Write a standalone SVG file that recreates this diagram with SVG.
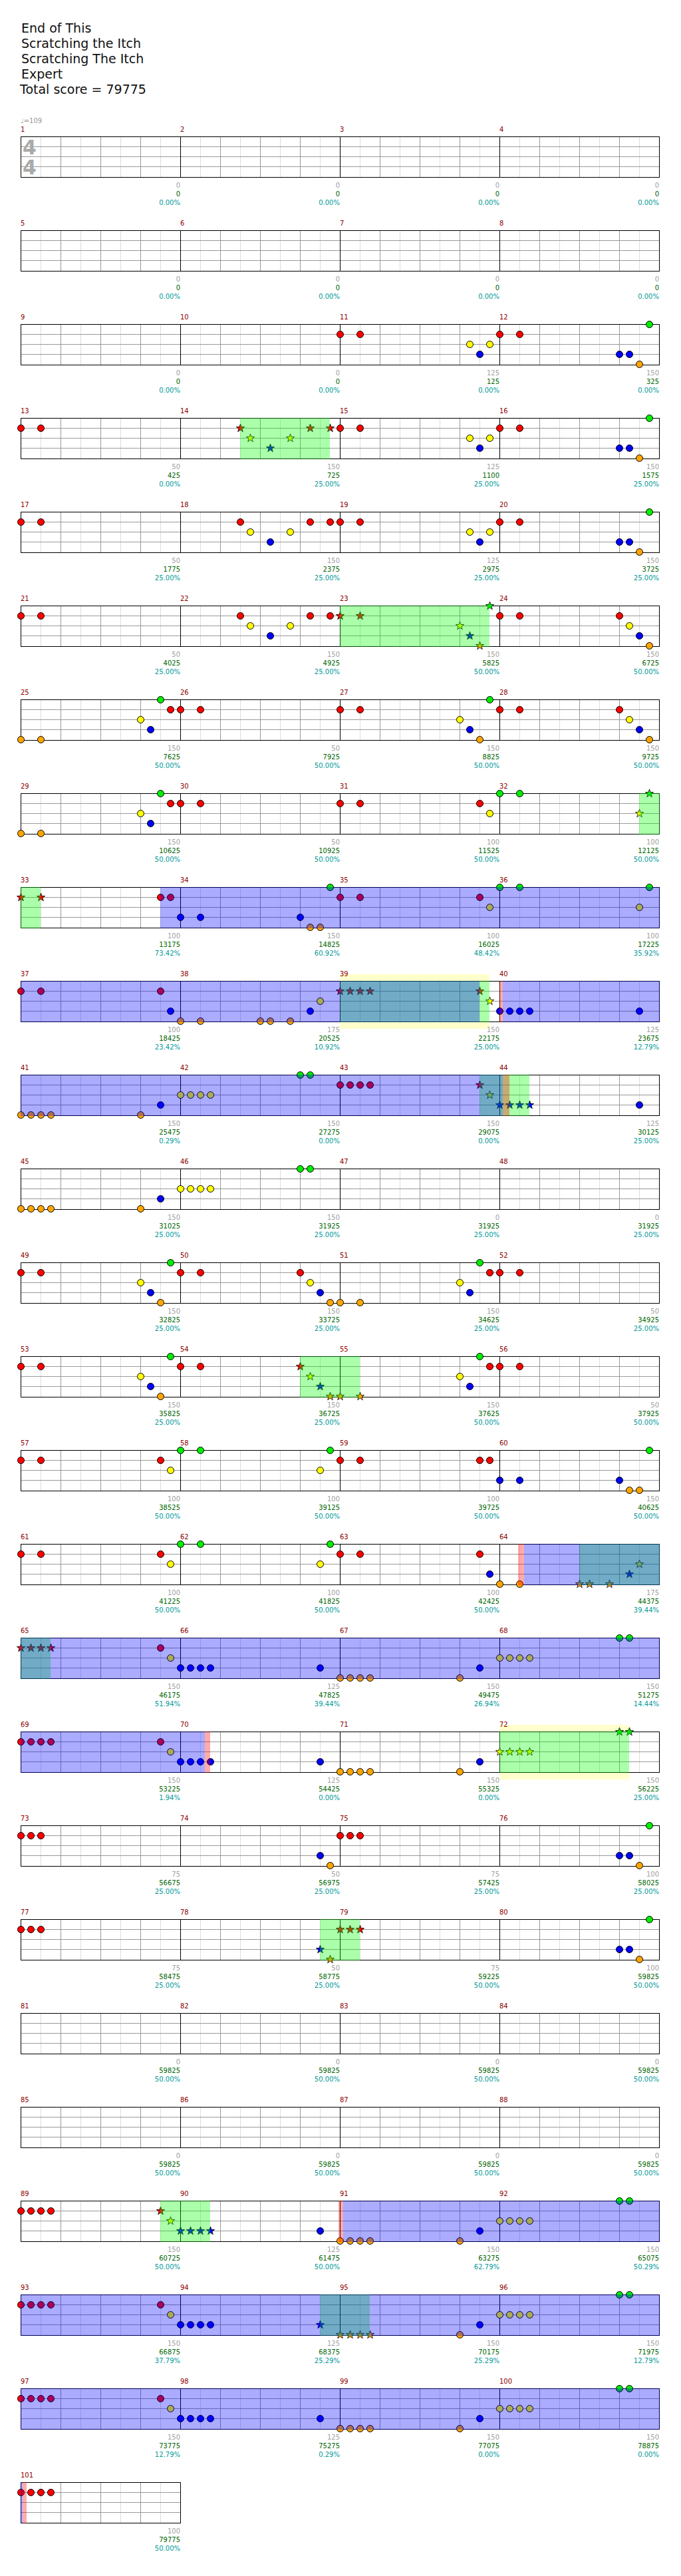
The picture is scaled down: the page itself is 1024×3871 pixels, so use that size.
<svg xmlns="http://www.w3.org/2000/svg" width="1024" height="3871" viewBox="0 0 1024 3871">
<style>
text{font-family:"DejaVu Sans","Liberation Sans",sans-serif;font-size:10px}
.h{font-size:19px;fill:#111}
.mn{fill:#8b0000}
.g,.s,.p{text-anchor:end}
.g{fill:#a0a0a0}.s{fill:#006400}.p{fill:#009999}
.gr{fill:#0f0;opacity:.33}.bl{fill:#00f;opacity:.33}.rd{fill:#f00;opacity:.33}.yl{fill:#ffc}
.ts{font-size:30px;font-weight:bold;fill:#aaa}
</style>
<defs>
<g id="staff">
<rect x="31.5" y="0.5" width="960" height="61" fill="#fff"/>
<path d="M61.5 1V61M121.5 1V61M181.5 1V61M241.5 1V61M301.5 1V61M361.5 1V61M421.5 1V61M481.5 1V61M541.5 1V61M601.5 1V61M661.5 1V61M721.5 1V61M781.5 1V61M841.5 1V61M901.5 1V61M961.5 1V61" stroke="#ddd"/>
<path d="M31.5 15.5H991.5M31.5 30.5H991.5M31.5 45.5H991.5M91.5 1V61M151.5 1V61M211.5 1V61M331.5 1V61M391.5 1V61M451.5 1V61M571.5 1V61M631.5 1V61M691.5 1V61M811.5 1V61M871.5 1V61M931.5 1V61" stroke="#999"/>
<path d="M271.5 1V61M511.5 1V61M751.5 1V61" stroke="#000"/>
<rect x="31.5" y="0.5" width="960" height="61" fill="none" stroke="#000"/>
</g>
<g id="staff1">
<rect x="31.5" y="0.5" width="240" height="61" fill="#fff"/>
<path d="M61.5 1V61M121.5 1V61M181.5 1V61M241.5 1V61" stroke="#ddd"/>
<path d="M31.5 15.5H271.5M31.5 30.5H271.5M31.5 45.5H271.5M91.5 1V61M151.5 1V61M211.5 1V61" stroke="#999"/>
<rect x="31.5" y="0.5" width="240" height="61" fill="none" stroke="#000"/>
</g>
<circle id="c" r="5" stroke="#000"/>
<path id="st" d="M0-6.5L1.53-2.1 6.18-2.01 2.47.8 3.82 5.26 0 2.6-3.82 5.26-2.47.8-6.18-2.01-1.53-2.1Z" stroke="#000" stroke-width=".8"/>
<use id="G" href="#c" y="0.5" fill="#0e0"/>
<use id="R" href="#c" y="15.5" fill="#f00"/>
<use id="Y" href="#c" y="30.5" fill="#ff0"/>
<use id="B" href="#c" y="45.5" fill="#00f"/>
<use id="O" href="#c" y="60.5" fill="#ffa500"/>
<use id="sG" href="#st" y="0.5" fill="#0e0"/>
<use id="sR" href="#st" y="15.5" fill="#f00"/>
<use id="sY" href="#st" y="30.5" fill="#ff0"/>
<use id="sB" href="#st" y="45.5" fill="#00f"/>
<use id="sO" href="#st" y="60.5" fill="#ffa500"/>
</defs>
<rect width="1024" height="3871" fill="#fff"/>
<g id="header">
<text class="h" x="32" y="49">End of This</text>
<text class="h" x="32" y="72">Scratching the Itch</text>
<text class="h" x="32" y="95">Scratching The Itch</text>
<text class="h" x="32" y="118">Expert</text>
<text class="h" x="30" y="141">Total score = 79775</text>
</g>

<g id="row1" transform="translate(0 205)">
<use href="#staff"/>
<text x="31" y="-20" fill="#999">♩=109</text>
<text class="ts" x="34" y="27">4</text><text class="ts" x="34" y="57">4</text>
<text class="mn" x="31" y="-7">1</text><text class="mn" x="271" y="-7">2</text><text class="mn" x="511" y="-7">3</text><text class="mn" x="751" y="-7">4</text>
<text class="g" x="271" y="77">0</text><text class="s" x="271" y="90">0</text><text class="p" x="271" y="103">0.00%</text>
<text class="g" x="511" y="77">0</text><text class="s" x="511" y="90">0</text><text class="p" x="511" y="103">0.00%</text>
<text class="g" x="751" y="77">0</text><text class="s" x="751" y="90">0</text><text class="p" x="751" y="103">0.00%</text>
<text class="g" x="991" y="77">0</text><text class="s" x="991" y="90">0</text><text class="p" x="991" y="103">0.00%</text>
</g>

<g id="row2" transform="translate(0 346)">
<use href="#staff"/>
<text class="mn" x="31" y="-7">5</text><text class="mn" x="271" y="-7">6</text><text class="mn" x="511" y="-7">7</text><text class="mn" x="751" y="-7">8</text>
<text class="g" x="271" y="77">0</text><text class="s" x="271" y="90">0</text><text class="p" x="271" y="103">0.00%</text>
<text class="g" x="511" y="77">0</text><text class="s" x="511" y="90">0</text><text class="p" x="511" y="103">0.00%</text>
<text class="g" x="751" y="77">0</text><text class="s" x="751" y="90">0</text><text class="p" x="751" y="103">0.00%</text>
<text class="g" x="991" y="77">0</text><text class="s" x="991" y="90">0</text><text class="p" x="991" y="103">0.00%</text>
</g>

<g id="row3" transform="translate(0 487)">
<use href="#staff"/>
<use href="#R" x="511.5"/><use href="#R" x="541.5"/><use href="#Y" x="706.5"/><use href="#B" x="721.5"/><use href="#Y" x="736.5"/><use href="#R" x="751.5"/><use href="#R" x="781.5"/><use href="#B" x="931.5"/><use href="#B" x="946.5"/><use href="#O" x="961.5"/><use href="#G" x="976.5"/>
<text class="mn" x="31" y="-7">9</text><text class="mn" x="271" y="-7">10</text><text class="mn" x="511" y="-7">11</text><text class="mn" x="751" y="-7">12</text>
<text class="g" x="271" y="77">0</text><text class="s" x="271" y="90">0</text><text class="p" x="271" y="103">0.00%</text>
<text class="g" x="511" y="77">0</text><text class="s" x="511" y="90">0</text><text class="p" x="511" y="103">0.00%</text>
<text class="g" x="751" y="77">125</text><text class="s" x="751" y="90">125</text><text class="p" x="751" y="103">0.00%</text>
<text class="g" x="991" y="77">150</text><text class="s" x="991" y="90">325</text><text class="p" x="991" y="103">0.00%</text>
</g>

<g id="row4" transform="translate(0 628)">
<use href="#staff"/>
<use href="#R" x="31.5"/><use href="#R" x="61.5"/><use href="#sR" x="361.5"/><use href="#sY" x="376.5"/><use href="#sB" x="406.5"/><use href="#sY" x="436.5"/><use href="#sR" x="466.5"/><use href="#sR" x="496.5"/><use href="#R" x="511.5"/><use href="#R" x="541.5"/><use href="#Y" x="706.5"/><use href="#B" x="721.5"/><use href="#Y" x="736.5"/><use href="#R" x="751.5"/><use href="#R" x="781.5"/><use href="#B" x="931.5"/><use href="#B" x="946.5"/><use href="#O" x="961.5"/><use href="#G" x="976.5"/>
<rect class="gr" x="361" y="0" width="135" height="62"/>
<text class="mn" x="31" y="-7">13</text><text class="mn" x="271" y="-7">14</text><text class="mn" x="511" y="-7">15</text><text class="mn" x="751" y="-7">16</text>
<text class="g" x="271" y="77">50</text><text class="s" x="271" y="90">425</text><text class="p" x="271" y="103">0.00%</text>
<text class="g" x="511" y="77">150</text><text class="s" x="511" y="90">725</text><text class="p" x="511" y="103">25.00%</text>
<text class="g" x="751" y="77">125</text><text class="s" x="751" y="90">1100</text><text class="p" x="751" y="103">25.00%</text>
<text class="g" x="991" y="77">150</text><text class="s" x="991" y="90">1575</text><text class="p" x="991" y="103">25.00%</text>
</g>

<g id="row5" transform="translate(0 769)">
<use href="#staff"/>
<use href="#R" x="31.5"/><use href="#R" x="61.5"/><use href="#R" x="361.5"/><use href="#Y" x="376.5"/><use href="#B" x="406.5"/><use href="#Y" x="436.5"/><use href="#R" x="466.5"/><use href="#R" x="496.5"/><use href="#R" x="511.5"/><use href="#R" x="541.5"/><use href="#Y" x="706.5"/><use href="#B" x="721.5"/><use href="#Y" x="736.5"/><use href="#R" x="751.5"/><use href="#R" x="781.5"/><use href="#B" x="931.5"/><use href="#B" x="946.5"/><use href="#O" x="961.5"/><use href="#G" x="976.5"/>
<text class="mn" x="31" y="-7">17</text><text class="mn" x="271" y="-7">18</text><text class="mn" x="511" y="-7">19</text><text class="mn" x="751" y="-7">20</text>
<text class="g" x="271" y="77">50</text><text class="s" x="271" y="90">1775</text><text class="p" x="271" y="103">25.00%</text>
<text class="g" x="511" y="77">150</text><text class="s" x="511" y="90">2375</text><text class="p" x="511" y="103">25.00%</text>
<text class="g" x="751" y="77">125</text><text class="s" x="751" y="90">2975</text><text class="p" x="751" y="103">25.00%</text>
<text class="g" x="991" y="77">150</text><text class="s" x="991" y="90">3725</text><text class="p" x="991" y="103">25.00%</text>
</g>

<g id="row6" transform="translate(0 910)">
<use href="#staff"/>
<use href="#R" x="31.5"/><use href="#R" x="61.5"/><use href="#R" x="361.5"/><use href="#Y" x="376.5"/><use href="#B" x="406.5"/><use href="#Y" x="436.5"/><use href="#R" x="466.5"/><use href="#R" x="496.5"/><use href="#sR" x="511.5"/><use href="#sR" x="541.5"/><use href="#sY" x="691.5"/><use href="#sB" x="706.5"/><use href="#sO" x="721.5"/><use href="#sG" x="736.5"/><use href="#R" x="751.5"/><use href="#R" x="781.5"/><use href="#R" x="931.5"/><use href="#Y" x="946.5"/><use href="#B" x="961.5"/><use href="#O" x="976.5"/>
<rect class="gr" x="511" y="0" width="225" height="62"/>
<text class="mn" x="31" y="-7">21</text><text class="mn" x="271" y="-7">22</text><text class="mn" x="511" y="-7">23</text><text class="mn" x="751" y="-7">24</text>
<text class="g" x="271" y="77">50</text><text class="s" x="271" y="90">4025</text><text class="p" x="271" y="103">25.00%</text>
<text class="g" x="511" y="77">150</text><text class="s" x="511" y="90">4925</text><text class="p" x="511" y="103">25.00%</text>
<text class="g" x="751" y="77">150</text><text class="s" x="751" y="90">5825</text><text class="p" x="751" y="103">50.00%</text>
<text class="g" x="991" y="77">150</text><text class="s" x="991" y="90">6725</text><text class="p" x="991" y="103">50.00%</text>
</g>

<g id="row7" transform="translate(0 1051)">
<use href="#staff"/>
<use href="#O" x="31.5"/><use href="#O" x="61.5"/><use href="#Y" x="211.5"/><use href="#B" x="226.5"/><use href="#G" x="241.5"/><use href="#R" x="256.5"/><use href="#R" x="271.5"/><use href="#R" x="301.5"/><use href="#R" x="511.5"/><use href="#R" x="541.5"/><use href="#Y" x="691.5"/><use href="#B" x="706.5"/><use href="#O" x="721.5"/><use href="#G" x="736.5"/><use href="#R" x="751.5"/><use href="#R" x="781.5"/><use href="#R" x="931.5"/><use href="#Y" x="946.5"/><use href="#B" x="961.5"/><use href="#O" x="976.5"/>
<text class="mn" x="31" y="-7">25</text><text class="mn" x="271" y="-7">26</text><text class="mn" x="511" y="-7">27</text><text class="mn" x="751" y="-7">28</text>
<text class="g" x="271" y="77">150</text><text class="s" x="271" y="90">7625</text><text class="p" x="271" y="103">50.00%</text>
<text class="g" x="511" y="77">50</text><text class="s" x="511" y="90">7925</text><text class="p" x="511" y="103">50.00%</text>
<text class="g" x="751" y="77">150</text><text class="s" x="751" y="90">8825</text><text class="p" x="751" y="103">50.00%</text>
<text class="g" x="991" y="77">150</text><text class="s" x="991" y="90">9725</text><text class="p" x="991" y="103">50.00%</text>
</g>

<g id="row8" transform="translate(0 1192)">
<use href="#staff"/>
<use href="#O" x="31.5"/><use href="#O" x="61.5"/><use href="#Y" x="211.5"/><use href="#B" x="226.5"/><use href="#G" x="241.5"/><use href="#R" x="256.5"/><use href="#R" x="271.5"/><use href="#R" x="301.5"/><use href="#R" x="511.5"/><use href="#R" x="541.5"/><use href="#R" x="721.5"/><use href="#Y" x="736.5"/><use href="#G" x="751.5"/><use href="#G" x="781.5"/><use href="#sY" x="961.5"/><use href="#sG" x="976.5"/>
<rect class="gr" x="961" y="0" width="31" height="62"/>
<text class="mn" x="31" y="-7">29</text><text class="mn" x="271" y="-7">30</text><text class="mn" x="511" y="-7">31</text><text class="mn" x="751" y="-7">32</text>
<text class="g" x="271" y="77">150</text><text class="s" x="271" y="90">10625</text><text class="p" x="271" y="103">50.00%</text>
<text class="g" x="511" y="77">50</text><text class="s" x="511" y="90">10925</text><text class="p" x="511" y="103">50.00%</text>
<text class="g" x="751" y="77">100</text><text class="s" x="751" y="90">11525</text><text class="p" x="751" y="103">50.00%</text>
<text class="g" x="991" y="77">100</text><text class="s" x="991" y="90">12125</text><text class="p" x="991" y="103">50.00%</text>
</g>

<g id="row9" transform="translate(0 1333)">
<use href="#staff"/>
<use href="#sR" x="31.5"/><use href="#sR" x="61.5"/><use href="#R" x="241.5"/><use href="#R" x="256.5"/><use href="#B" x="271.5"/><use href="#B" x="301.5"/><use href="#B" x="451.5"/><use href="#O" x="466.5"/><use href="#O" x="481.5"/><use href="#G" x="496.5"/><use href="#R" x="511.5"/><use href="#R" x="541.5"/><use href="#R" x="721.5"/><use href="#Y" x="736.5"/><use href="#G" x="751.5"/><use href="#G" x="781.5"/><use href="#Y" x="961.5"/><use href="#G" x="976.5"/>
<rect class="gr" x="31" y="0" width="30" height="62"/>
<rect class="bl" x="241" y="0" width="751" height="62"/>
<text class="mn" x="31" y="-7">33</text><text class="mn" x="271" y="-7">34</text><text class="mn" x="511" y="-7">35</text><text class="mn" x="751" y="-7">36</text>
<text class="g" x="271" y="77">100</text><text class="s" x="271" y="90">13175</text><text class="p" x="271" y="103">73.42%</text>
<text class="g" x="511" y="77">150</text><text class="s" x="511" y="90">14825</text><text class="p" x="511" y="103">60.92%</text>
<text class="g" x="751" y="77">100</text><text class="s" x="751" y="90">16025</text><text class="p" x="751" y="103">48.42%</text>
<text class="g" x="991" y="77">100</text><text class="s" x="991" y="90">17225</text><text class="p" x="991" y="103">35.92%</text>
</g>

<g id="row10" transform="translate(0 1474)">
<rect class="yl" x="511" y="-10" width="225" height="82"/>
<use href="#staff"/>
<use href="#R" x="31.5"/><use href="#R" x="61.5"/><use href="#R" x="241.5"/><use href="#B" x="256.5"/><use href="#O" x="271.5"/><use href="#O" x="301.5"/><use href="#O" x="391.5"/><use href="#O" x="406.5"/><use href="#O" x="436.5"/><use href="#B" x="466.5"/><use href="#Y" x="481.5"/><use href="#sR" x="511.5"/><use href="#sR" x="526.5"/><use href="#sR" x="541.5"/><use href="#sR" x="556.5"/><use href="#sR" x="721.5"/><use href="#sY" x="736.5"/><use href="#B" x="751.5"/><use href="#B" x="766.5"/><use href="#B" x="781.5"/><use href="#B" x="796.5"/><use href="#B" x="961.5"/>
<rect class="gr" x="511" y="0" width="225" height="62"/>
<rect class="bl" x="31" y="0" width="690" height="62"/>
<rect class="bl" x="756" y="0" width="236" height="62"/>
<rect class="rd" x="751" y="0" width="5" height="62"/>
<text class="mn" x="31" y="-7">37</text><text class="mn" x="271" y="-7">38</text><text class="mn" x="511" y="-7">39</text><text class="mn" x="751" y="-7">40</text>
<text class="g" x="271" y="77">100</text><text class="s" x="271" y="90">18425</text><text class="p" x="271" y="103">23.42%</text>
<text class="g" x="511" y="77">175</text><text class="s" x="511" y="90">20525</text><text class="p" x="511" y="103">10.92%</text>
<text class="g" x="751" y="77">150</text><text class="s" x="751" y="90">22175</text><text class="p" x="751" y="103">25.00%</text>
<text class="g" x="991" y="77">125</text><text class="s" x="991" y="90">23675</text><text class="p" x="991" y="103">12.79%</text>
</g>

<g id="row11" transform="translate(0 1615)">
<use href="#staff"/>
<use href="#O" x="31.5"/><use href="#O" x="46.5"/><use href="#O" x="61.5"/><use href="#O" x="76.5"/><use href="#O" x="211.5"/><use href="#B" x="241.5"/><use href="#Y" x="271.5"/><use href="#Y" x="286.5"/><use href="#Y" x="301.5"/><use href="#Y" x="316.5"/><use href="#G" x="451.5"/><use href="#G" x="466.5"/><use href="#R" x="511.5"/><use href="#R" x="526.5"/><use href="#R" x="541.5"/><use href="#R" x="556.5"/><use href="#sR" x="721.5"/><use href="#sY" x="736.5"/><use href="#sB" x="751.5"/><use href="#sB" x="766.5"/><use href="#sB" x="781.5"/><use href="#sB" x="796.5"/><use href="#B" x="961.5"/>
<rect class="gr" x="721" y="0" width="75" height="62"/>
<rect class="bl" x="31" y="0" width="725" height="62"/>
<rect class="rd" x="756" y="0" width="10" height="62"/>
<text class="mn" x="31" y="-7">41</text><text class="mn" x="271" y="-7">42</text><text class="mn" x="511" y="-7">43</text><text class="mn" x="751" y="-7">44</text>
<text class="g" x="271" y="77">150</text><text class="s" x="271" y="90">25475</text><text class="p" x="271" y="103">0.29%</text>
<text class="g" x="511" y="77">150</text><text class="s" x="511" y="90">27275</text><text class="p" x="511" y="103">0.00%</text>
<text class="g" x="751" y="77">150</text><text class="s" x="751" y="90">29075</text><text class="p" x="751" y="103">0.00%</text>
<text class="g" x="991" y="77">125</text><text class="s" x="991" y="90">30125</text><text class="p" x="991" y="103">25.00%</text>
</g>

<g id="row12" transform="translate(0 1756)">
<use href="#staff"/>
<use href="#O" x="31.5"/><use href="#O" x="46.5"/><use href="#O" x="61.5"/><use href="#O" x="76.5"/><use href="#O" x="211.5"/><use href="#B" x="241.5"/><use href="#Y" x="271.5"/><use href="#Y" x="286.5"/><use href="#Y" x="301.5"/><use href="#Y" x="316.5"/><use href="#G" x="451.5"/><use href="#G" x="466.5"/>
<text class="mn" x="31" y="-7">45</text><text class="mn" x="271" y="-7">46</text><text class="mn" x="511" y="-7">47</text><text class="mn" x="751" y="-7">48</text>
<text class="g" x="271" y="77">150</text><text class="s" x="271" y="90">31025</text><text class="p" x="271" y="103">25.00%</text>
<text class="g" x="511" y="77">150</text><text class="s" x="511" y="90">31925</text><text class="p" x="511" y="103">25.00%</text>
<text class="g" x="751" y="77">0</text><text class="s" x="751" y="90">31925</text><text class="p" x="751" y="103">25.00%</text>
<text class="g" x="991" y="77">0</text><text class="s" x="991" y="90">31925</text><text class="p" x="991" y="103">25.00%</text>
</g>

<g id="row13" transform="translate(0 1897)">
<use href="#staff"/>
<use href="#R" x="31.5"/><use href="#R" x="61.5"/><use href="#Y" x="211.5"/><use href="#B" x="226.5"/><use href="#O" x="241.5"/><use href="#G" x="256.5"/><use href="#R" x="271.5"/><use href="#R" x="301.5"/><use href="#R" x="451.5"/><use href="#Y" x="466.5"/><use href="#B" x="481.5"/><use href="#O" x="496.5"/><use href="#O" x="511.5"/><use href="#O" x="541.5"/><use href="#Y" x="691.5"/><use href="#B" x="706.5"/><use href="#G" x="721.5"/><use href="#R" x="736.5"/><use href="#R" x="751.5"/><use href="#R" x="781.5"/>
<text class="mn" x="31" y="-7">49</text><text class="mn" x="271" y="-7">50</text><text class="mn" x="511" y="-7">51</text><text class="mn" x="751" y="-7">52</text>
<text class="g" x="271" y="77">150</text><text class="s" x="271" y="90">32825</text><text class="p" x="271" y="103">25.00%</text>
<text class="g" x="511" y="77">150</text><text class="s" x="511" y="90">33725</text><text class="p" x="511" y="103">25.00%</text>
<text class="g" x="751" y="77">150</text><text class="s" x="751" y="90">34625</text><text class="p" x="751" y="103">25.00%</text>
<text class="g" x="991" y="77">50</text><text class="s" x="991" y="90">34925</text><text class="p" x="991" y="103">25.00%</text>
</g>

<g id="row14" transform="translate(0 2038)">
<use href="#staff"/>
<use href="#R" x="31.5"/><use href="#R" x="61.5"/><use href="#Y" x="211.5"/><use href="#B" x="226.5"/><use href="#O" x="241.5"/><use href="#G" x="256.5"/><use href="#R" x="271.5"/><use href="#R" x="301.5"/><use href="#sR" x="451.5"/><use href="#sY" x="466.5"/><use href="#sB" x="481.5"/><use href="#sO" x="496.5"/><use href="#sO" x="511.5"/><use href="#sO" x="541.5"/><use href="#Y" x="691.5"/><use href="#B" x="706.5"/><use href="#G" x="721.5"/><use href="#R" x="736.5"/><use href="#R" x="751.5"/><use href="#R" x="781.5"/>
<rect class="gr" x="451" y="0" width="90" height="62"/>
<text class="mn" x="31" y="-7">53</text><text class="mn" x="271" y="-7">54</text><text class="mn" x="511" y="-7">55</text><text class="mn" x="751" y="-7">56</text>
<text class="g" x="271" y="77">150</text><text class="s" x="271" y="90">35825</text><text class="p" x="271" y="103">25.00%</text>
<text class="g" x="511" y="77">150</text><text class="s" x="511" y="90">36725</text><text class="p" x="511" y="103">25.00%</text>
<text class="g" x="751" y="77">150</text><text class="s" x="751" y="90">37625</text><text class="p" x="751" y="103">50.00%</text>
<text class="g" x="991" y="77">50</text><text class="s" x="991" y="90">37925</text><text class="p" x="991" y="103">50.00%</text>
</g>

<g id="row15" transform="translate(0 2179)">
<use href="#staff"/>
<use href="#R" x="31.5"/><use href="#R" x="61.5"/><use href="#R" x="241.5"/><use href="#Y" x="256.5"/><use href="#G" x="271.5"/><use href="#G" x="301.5"/><use href="#Y" x="481.5"/><use href="#G" x="496.5"/><use href="#R" x="511.5"/><use href="#R" x="541.5"/><use href="#R" x="721.5"/><use href="#R" x="736.5"/><use href="#B" x="751.5"/><use href="#B" x="781.5"/><use href="#B" x="931.5"/><use href="#O" x="946.5"/><use href="#O" x="961.5"/><use href="#G" x="976.5"/>
<text class="mn" x="31" y="-7">57</text><text class="mn" x="271" y="-7">58</text><text class="mn" x="511" y="-7">59</text><text class="mn" x="751" y="-7">60</text>
<text class="g" x="271" y="77">100</text><text class="s" x="271" y="90">38525</text><text class="p" x="271" y="103">50.00%</text>
<text class="g" x="511" y="77">100</text><text class="s" x="511" y="90">39125</text><text class="p" x="511" y="103">50.00%</text>
<text class="g" x="751" y="77">100</text><text class="s" x="751" y="90">39725</text><text class="p" x="751" y="103">50.00%</text>
<text class="g" x="991" y="77">150</text><text class="s" x="991" y="90">40625</text><text class="p" x="991" y="103">50.00%</text>
</g>

<g id="row16" transform="translate(0 2320)">
<use href="#staff"/>
<use href="#R" x="31.5"/><use href="#R" x="61.5"/><use href="#R" x="241.5"/><use href="#Y" x="256.5"/><use href="#G" x="271.5"/><use href="#G" x="301.5"/><use href="#Y" x="481.5"/><use href="#G" x="496.5"/><use href="#R" x="511.5"/><use href="#R" x="541.5"/><use href="#R" x="721.5"/><use href="#B" x="736.5"/><use href="#O" x="751.5"/><use href="#O" x="781.5"/><use href="#sO" x="871.5"/><use href="#sO" x="886.5"/><use href="#sO" x="916.5"/><use href="#sB" x="946.5"/><use href="#sY" x="961.5"/>
<rect class="gr" x="871" y="0" width="121" height="62"/>
<rect class="bl" x="788" y="0" width="204" height="62"/>
<rect class="rd" x="779" y="0" width="9" height="62"/>
<text class="mn" x="31" y="-7">61</text><text class="mn" x="271" y="-7">62</text><text class="mn" x="511" y="-7">63</text><text class="mn" x="751" y="-7">64</text>
<text class="g" x="271" y="77">100</text><text class="s" x="271" y="90">41225</text><text class="p" x="271" y="103">50.00%</text>
<text class="g" x="511" y="77">100</text><text class="s" x="511" y="90">41825</text><text class="p" x="511" y="103">50.00%</text>
<text class="g" x="751" y="77">100</text><text class="s" x="751" y="90">42425</text><text class="p" x="751" y="103">50.00%</text>
<text class="g" x="991" y="77">175</text><text class="s" x="991" y="90">44375</text><text class="p" x="991" y="103">39.44%</text>
</g>

<g id="row17" transform="translate(0 2461)">
<use href="#staff"/>
<use href="#sR" x="31.5"/><use href="#sR" x="46.5"/><use href="#sR" x="61.5"/><use href="#sR" x="76.5"/><use href="#R" x="241.5"/><use href="#Y" x="256.5"/><use href="#B" x="271.5"/><use href="#B" x="286.5"/><use href="#B" x="301.5"/><use href="#B" x="316.5"/><use href="#B" x="481.5"/><use href="#O" x="511.5"/><use href="#O" x="526.5"/><use href="#O" x="541.5"/><use href="#O" x="556.5"/><use href="#O" x="691.5"/><use href="#B" x="721.5"/><use href="#Y" x="751.5"/><use href="#Y" x="766.5"/><use href="#Y" x="781.5"/><use href="#Y" x="796.5"/><use href="#G" x="931.5"/><use href="#G" x="946.5"/>
<rect class="gr" x="31" y="0" width="45" height="62"/>
<rect class="bl" x="31" y="0" width="961" height="62"/>
<text class="mn" x="31" y="-7">65</text><text class="mn" x="271" y="-7">66</text><text class="mn" x="511" y="-7">67</text><text class="mn" x="751" y="-7">68</text>
<text class="g" x="271" y="77">150</text><text class="s" x="271" y="90">46175</text><text class="p" x="271" y="103">51.94%</text>
<text class="g" x="511" y="77">125</text><text class="s" x="511" y="90">47825</text><text class="p" x="511" y="103">39.44%</text>
<text class="g" x="751" y="77">150</text><text class="s" x="751" y="90">49475</text><text class="p" x="751" y="103">26.94%</text>
<text class="g" x="991" y="77">150</text><text class="s" x="991" y="90">51275</text><text class="p" x="991" y="103">14.44%</text>
</g>

<g id="row18" transform="translate(0 2602)">
<rect class="yl" x="751" y="-10" width="195" height="82"/>
<use href="#staff"/>
<use href="#R" x="31.5"/><use href="#R" x="46.5"/><use href="#R" x="61.5"/><use href="#R" x="76.5"/><use href="#R" x="241.5"/><use href="#Y" x="256.5"/><use href="#B" x="271.5"/><use href="#B" x="286.5"/><use href="#B" x="301.5"/><use href="#B" x="316.5"/><use href="#B" x="481.5"/><use href="#O" x="511.5"/><use href="#O" x="526.5"/><use href="#O" x="541.5"/><use href="#O" x="556.5"/><use href="#O" x="691.5"/><use href="#B" x="721.5"/><use href="#sY" x="751.5"/><use href="#sY" x="766.5"/><use href="#sY" x="781.5"/><use href="#sY" x="796.5"/><use href="#sG" x="931.5"/><use href="#sG" x="946.5"/>
<rect class="gr" x="751" y="0" width="195" height="62"/>
<rect class="bl" x="31" y="0" width="277" height="62"/>
<rect class="rd" x="308" y="0" width="8" height="62"/>
<text class="mn" x="31" y="-7">69</text><text class="mn" x="271" y="-7">70</text><text class="mn" x="511" y="-7">71</text><text class="mn" x="751" y="-7">72</text>
<text class="g" x="271" y="77">150</text><text class="s" x="271" y="90">53225</text><text class="p" x="271" y="103">1.94%</text>
<text class="g" x="511" y="77">125</text><text class="s" x="511" y="90">54425</text><text class="p" x="511" y="103">0.00%</text>
<text class="g" x="751" y="77">150</text><text class="s" x="751" y="90">55325</text><text class="p" x="751" y="103">0.00%</text>
<text class="g" x="991" y="77">150</text><text class="s" x="991" y="90">56225</text><text class="p" x="991" y="103">25.00%</text>
</g>

<g id="row19" transform="translate(0 2743)">
<use href="#staff"/>
<use href="#R" x="31.5"/><use href="#R" x="46.5"/><use href="#R" x="61.5"/><use href="#B" x="481.5"/><use href="#O" x="496.5"/><use href="#R" x="511.5"/><use href="#R" x="526.5"/><use href="#R" x="541.5"/><use href="#B" x="931.5"/><use href="#B" x="946.5"/><use href="#O" x="961.5"/><use href="#G" x="976.5"/>
<text class="mn" x="31" y="-7">73</text><text class="mn" x="271" y="-7">74</text><text class="mn" x="511" y="-7">75</text><text class="mn" x="751" y="-7">76</text>
<text class="g" x="271" y="77">75</text><text class="s" x="271" y="90">56675</text><text class="p" x="271" y="103">25.00%</text>
<text class="g" x="511" y="77">50</text><text class="s" x="511" y="90">56975</text><text class="p" x="511" y="103">25.00%</text>
<text class="g" x="751" y="77">75</text><text class="s" x="751" y="90">57425</text><text class="p" x="751" y="103">25.00%</text>
<text class="g" x="991" y="77">100</text><text class="s" x="991" y="90">58025</text><text class="p" x="991" y="103">25.00%</text>
</g>

<g id="row20" transform="translate(0 2884)">
<use href="#staff"/>
<use href="#R" x="31.5"/><use href="#R" x="46.5"/><use href="#R" x="61.5"/><use href="#sB" x="481.5"/><use href="#sO" x="496.5"/><use href="#sR" x="511.5"/><use href="#sR" x="526.5"/><use href="#sR" x="541.5"/><use href="#B" x="931.5"/><use href="#B" x="946.5"/><use href="#O" x="961.5"/><use href="#G" x="976.5"/>
<rect class="gr" x="481" y="0" width="60" height="62"/>
<text class="mn" x="31" y="-7">77</text><text class="mn" x="271" y="-7">78</text><text class="mn" x="511" y="-7">79</text><text class="mn" x="751" y="-7">80</text>
<text class="g" x="271" y="77">75</text><text class="s" x="271" y="90">58475</text><text class="p" x="271" y="103">25.00%</text>
<text class="g" x="511" y="77">50</text><text class="s" x="511" y="90">58775</text><text class="p" x="511" y="103">25.00%</text>
<text class="g" x="751" y="77">75</text><text class="s" x="751" y="90">59225</text><text class="p" x="751" y="103">50.00%</text>
<text class="g" x="991" y="77">100</text><text class="s" x="991" y="90">59825</text><text class="p" x="991" y="103">50.00%</text>
</g>

<g id="row21" transform="translate(0 3025)">
<use href="#staff"/>
<text class="mn" x="31" y="-7">81</text><text class="mn" x="271" y="-7">82</text><text class="mn" x="511" y="-7">83</text><text class="mn" x="751" y="-7">84</text>
<text class="g" x="271" y="77">0</text><text class="s" x="271" y="90">59825</text><text class="p" x="271" y="103">50.00%</text>
<text class="g" x="511" y="77">0</text><text class="s" x="511" y="90">59825</text><text class="p" x="511" y="103">50.00%</text>
<text class="g" x="751" y="77">0</text><text class="s" x="751" y="90">59825</text><text class="p" x="751" y="103">50.00%</text>
<text class="g" x="991" y="77">0</text><text class="s" x="991" y="90">59825</text><text class="p" x="991" y="103">50.00%</text>
</g>

<g id="row22" transform="translate(0 3166)">
<use href="#staff"/>
<text class="mn" x="31" y="-7">85</text><text class="mn" x="271" y="-7">86</text><text class="mn" x="511" y="-7">87</text><text class="mn" x="751" y="-7">88</text>
<text class="g" x="271" y="77">0</text><text class="s" x="271" y="90">59825</text><text class="p" x="271" y="103">50.00%</text>
<text class="g" x="511" y="77">0</text><text class="s" x="511" y="90">59825</text><text class="p" x="511" y="103">50.00%</text>
<text class="g" x="751" y="77">0</text><text class="s" x="751" y="90">59825</text><text class="p" x="751" y="103">50.00%</text>
<text class="g" x="991" y="77">0</text><text class="s" x="991" y="90">59825</text><text class="p" x="991" y="103">50.00%</text>
</g>

<g id="row23" transform="translate(0 3307)">
<use href="#staff"/>
<use href="#R" x="31.5"/><use href="#R" x="46.5"/><use href="#R" x="61.5"/><use href="#R" x="76.5"/><use href="#sR" x="241.5"/><use href="#sY" x="256.5"/><use href="#sB" x="271.5"/><use href="#sB" x="286.5"/><use href="#sB" x="301.5"/><use href="#sB" x="316.5"/><use href="#B" x="481.5"/><use href="#O" x="511.5"/><use href="#O" x="526.5"/><use href="#O" x="541.5"/><use href="#O" x="556.5"/><use href="#O" x="691.5"/><use href="#B" x="721.5"/><use href="#Y" x="751.5"/><use href="#Y" x="766.5"/><use href="#Y" x="781.5"/><use href="#Y" x="796.5"/><use href="#G" x="931.5"/><use href="#G" x="946.5"/>
<rect class="gr" x="241" y="0" width="75" height="62"/>
<rect class="bl" x="516" y="0" width="476" height="62"/>
<rect class="rd" x="509" y="0" width="7" height="62"/>
<text class="mn" x="31" y="-7">89</text><text class="mn" x="271" y="-7">90</text><text class="mn" x="511" y="-7">91</text><text class="mn" x="751" y="-7">92</text>
<text class="g" x="271" y="77">150</text><text class="s" x="271" y="90">60725</text><text class="p" x="271" y="103">50.00%</text>
<text class="g" x="511" y="77">125</text><text class="s" x="511" y="90">61475</text><text class="p" x="511" y="103">50.00%</text>
<text class="g" x="751" y="77">150</text><text class="s" x="751" y="90">63275</text><text class="p" x="751" y="103">62.79%</text>
<text class="g" x="991" y="77">150</text><text class="s" x="991" y="90">65075</text><text class="p" x="991" y="103">50.29%</text>
</g>

<g id="row24" transform="translate(0 3448)">
<use href="#staff"/>
<use href="#R" x="31.5"/><use href="#R" x="46.5"/><use href="#R" x="61.5"/><use href="#R" x="76.5"/><use href="#R" x="241.5"/><use href="#Y" x="256.5"/><use href="#B" x="271.5"/><use href="#B" x="286.5"/><use href="#B" x="301.5"/><use href="#B" x="316.5"/><use href="#sB" x="481.5"/><use href="#sO" x="511.5"/><use href="#sO" x="526.5"/><use href="#sO" x="541.5"/><use href="#sO" x="556.5"/><use href="#O" x="691.5"/><use href="#B" x="721.5"/><use href="#Y" x="751.5"/><use href="#Y" x="766.5"/><use href="#Y" x="781.5"/><use href="#Y" x="796.5"/><use href="#G" x="931.5"/><use href="#G" x="946.5"/>
<rect class="gr" x="481" y="0" width="75" height="62"/>
<rect class="bl" x="31" y="0" width="961" height="62"/>
<text class="mn" x="31" y="-7">93</text><text class="mn" x="271" y="-7">94</text><text class="mn" x="511" y="-7">95</text><text class="mn" x="751" y="-7">96</text>
<text class="g" x="271" y="77">150</text><text class="s" x="271" y="90">66875</text><text class="p" x="271" y="103">37.79%</text>
<text class="g" x="511" y="77">125</text><text class="s" x="511" y="90">68375</text><text class="p" x="511" y="103">25.29%</text>
<text class="g" x="751" y="77">150</text><text class="s" x="751" y="90">70175</text><text class="p" x="751" y="103">25.29%</text>
<text class="g" x="991" y="77">150</text><text class="s" x="991" y="90">71975</text><text class="p" x="991" y="103">12.79%</text>
</g>

<g id="row25" transform="translate(0 3589)">
<use href="#staff"/>
<use href="#R" x="31.5"/><use href="#R" x="46.5"/><use href="#R" x="61.5"/><use href="#R" x="76.5"/><use href="#R" x="241.5"/><use href="#Y" x="256.5"/><use href="#B" x="271.5"/><use href="#B" x="286.5"/><use href="#B" x="301.5"/><use href="#B" x="316.5"/><use href="#B" x="481.5"/><use href="#O" x="511.5"/><use href="#O" x="526.5"/><use href="#O" x="541.5"/><use href="#O" x="556.5"/><use href="#O" x="691.5"/><use href="#B" x="721.5"/><use href="#Y" x="751.5"/><use href="#Y" x="766.5"/><use href="#Y" x="781.5"/><use href="#Y" x="796.5"/><use href="#G" x="931.5"/><use href="#G" x="946.5"/>
<rect class="bl" x="31" y="0" width="961" height="62"/>
<text class="mn" x="31" y="-7">97</text><text class="mn" x="271" y="-7">98</text><text class="mn" x="511" y="-7">99</text><text class="mn" x="751" y="-7">100</text>
<text class="g" x="271" y="77">150</text><text class="s" x="271" y="90">73775</text><text class="p" x="271" y="103">12.79%</text>
<text class="g" x="511" y="77">125</text><text class="s" x="511" y="90">75275</text><text class="p" x="511" y="103">0.29%</text>
<text class="g" x="751" y="77">150</text><text class="s" x="751" y="90">77075</text><text class="p" x="751" y="103">0.00%</text>
<text class="g" x="991" y="77">150</text><text class="s" x="991" y="90">78875</text><text class="p" x="991" y="103">0.00%</text>
</g>

<g id="row26" transform="translate(0 3730)">
<use href="#staff1"/>
<use href="#R" x="31.5"/><use href="#R" x="46.5"/><use href="#R" x="61.5"/><use href="#R" x="76.5"/>
<rect class="bl" x="31" y="0" width="3" height="62"/>
<rect class="rd" x="34" y="0" width="6" height="62"/>
<text class="mn" x="31" y="-7">101</text>
<text class="g" x="271" y="77">100</text><text class="s" x="271" y="90">79775</text><text class="p" x="271" y="103">50.00%</text>
</g>
</svg>
